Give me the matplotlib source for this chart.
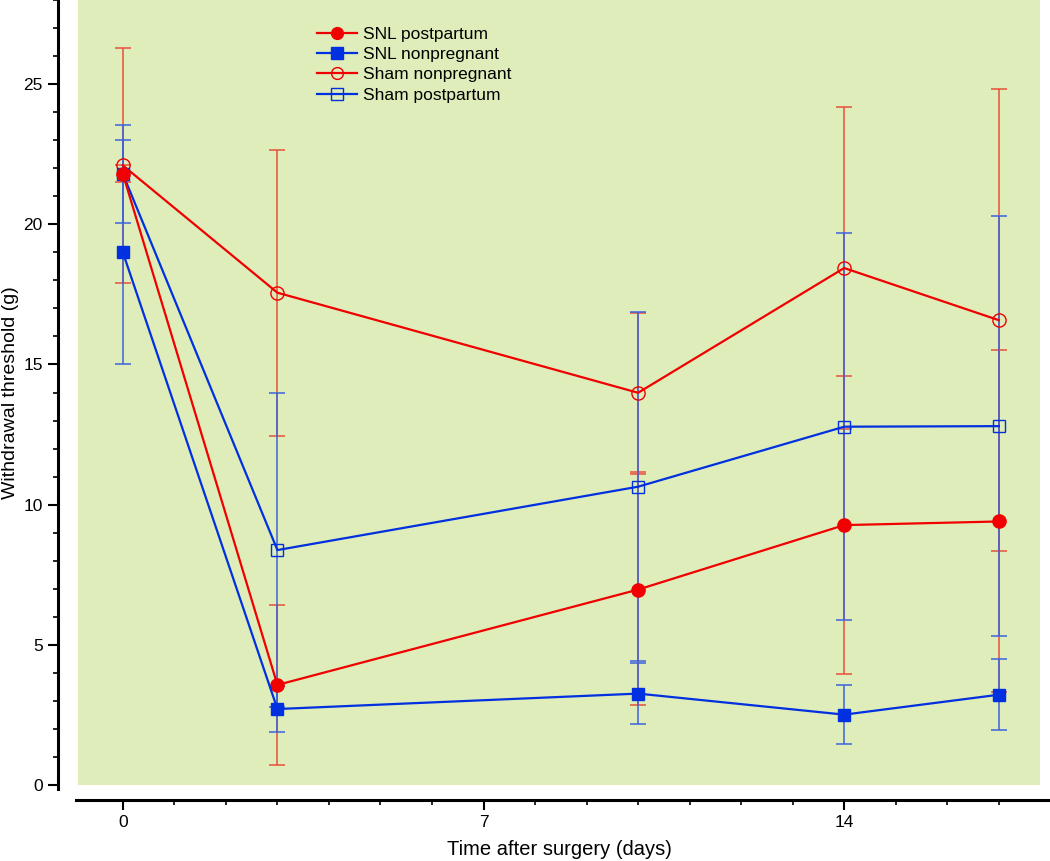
import matplotlib
matplotlib.use("Agg")
import matplotlib.pyplot as plt
from matplotlib.ticker import MultipleLocator

days = [0, 3, 10, 14, 17]

snl_post = [21.8, 3.57, 6.97, 9.27, 9.40]
snl_post_err = [0.3, 2.85, 4.13, 5.32, 6.10]

snl_nonpreg = [19.0, 2.71, 3.26, 2.51, 3.22]
snl_nonpreg_err = [4.0, 0.81, 1.08, 1.05, 1.26]

sham_nonpreg = [22.1, 17.56, 13.99, 18.44, 16.58]
sham_nonpreg_err = [4.2, 5.10, 2.83, 5.74, 8.25]

sham_post = [21.8, 8.38, 10.64, 12.78, 12.80]
sham_post_err = [1.75, 5.60, 6.22, 6.90, 7.50]

labels = ["SNL postpartum", "SNL nonpregnant", "Sham nonpregnant", "Sham postpartum"]
xticks = [0, 7, 14]
yticks = [0, 5, 10, 15, 20, 25]

RED = "#F00000"
BLUE = "#0030E0"
RED_E = "#E8503C"
BLUE_E = "#3C62DC"

plt.rcParams['font.family'] = ['Liberation Sans', 'DejaVu Sans']

fig = plt.figure(figsize=(10.5, 8.61), dpi=100)
ax = fig.add_axes([78/1050, 76/861, (1040-78)/1050, (861-76)/861])
ax.set_facecolor("#DFEDBA")

eb_kw = dict(fmt='none', elinewidth=1.1, capsize=5.8, capthick=1.1)
ax.errorbar(days, sham_nonpreg, yerr=sham_nonpreg_err, ecolor=RED_E, zorder=2, **eb_kw)
ax.errorbar(days, snl_post, yerr=snl_post_err, ecolor=RED_E, zorder=2, **eb_kw)
ax.errorbar(days, sham_post, yerr=sham_post_err, ecolor=BLUE_E, zorder=2.1, **eb_kw)
ax.errorbar(days, snl_nonpreg, yerr=snl_nonpreg_err, ecolor=BLUE_E, zorder=2.1, **eb_kw)

h1, = ax.plot(days, snl_post, color=RED, lw=1.6, marker='o', ms=9.5, mfc=RED, mec=RED, zorder=4)
h2, = ax.plot(days, snl_nonpreg, color=BLUE, lw=1.6, marker='s', ms=8.5, mfc=BLUE, mec=BLUE, zorder=4)
h3, = ax.plot(days, sham_nonpreg, color=RED, lw=1.6, marker='o', ms=9.5, mfc='none', mec=RED, mew=1.0, zorder=3)
h4, = ax.plot(days, sham_post, color=BLUE, lw=1.6, marker='s', ms=8.5, mfc='none', mec=BLUE, mew=1.0, zorder=3)

ax.set_xlim(-0.87, 17.8)
ax.set_ylim(0, 28)
ax.set_xticks(xticks)
ax.set_yticks(yticks)
ax.xaxis.set_minor_locator(MultipleLocator(1))
ax.yaxis.set_minor_locator(MultipleLocator(1))

for s in ['top', 'right']:
    ax.spines[s].set_visible(False)
ax.spines['left'].set_position(('outward', 14.4))
ax.spines['bottom'].set_position(('outward', 10.8))
ax.spines['left'].set_linewidth(2.2)
ax.spines['bottom'].set_linewidth(2.2)
ax.spines['bottom'].set_bounds(-0.9, 18.05)
ax.spines['left'].set_bounds(-0.15, 28)

ax.tick_params(axis='both', which='major', direction='out', length=7, width=1.5, labelsize=12.5, colors='black')
ax.tick_params(axis='both', which='minor', direction='out', length=3.5, width=1.2)
ax.tick_params(axis='y', pad=4)
ax.tick_params(axis='x', pad=4)

ax.set_xlabel("Time after surgery (days)", fontsize=14.5, labelpad=7)
ax.set_ylabel("Withdrawal threshold (g)", fontsize=14, labelpad=3)

leg = ax.legend([h1, h2, h3, h4], labels, loc='upper left', bbox_to_anchor=(0.241, 0.975),
                frameon=False, fontsize=12.5, handlelength=2.3, handletextpad=0.35,
                labelspacing=0.3, borderaxespad=0)
for h in leg.legend_handles:
    h.set_markersize(8.5)

fig.savefig("out.png", dpi=100)
